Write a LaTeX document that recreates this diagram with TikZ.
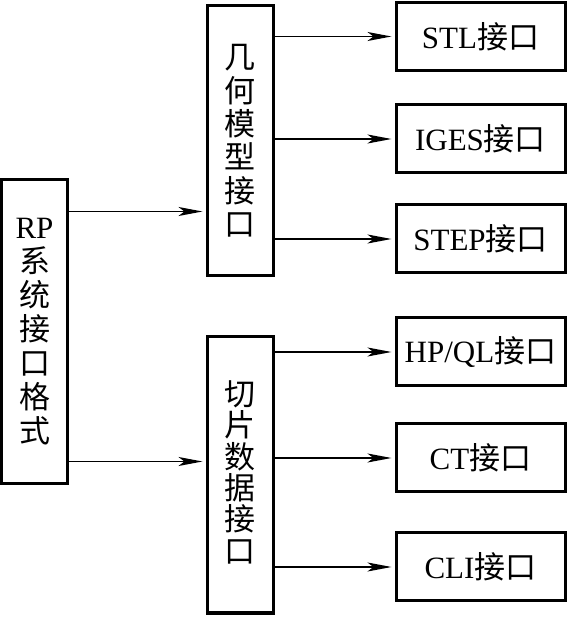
\documentclass[tikz,border=0pt]{standalone}
\usepackage{fontspec}
\setmainfont{Liberation Serif}
\newfontfamily\cjk{Noto Sans CJK SC}
\usetikzlibrary{arrows.meta,positioning,calc}
\newcommand{\zh}[1]{{\cjk #1}}
\tikzset{
  box/.style={draw=black,line width=1.5pt,fill=white,inner sep=0pt,
    align=center,font=\fontsize{15.5}{17}\selectfont},
  vbox/.style={box,minimum width=33pt},
  ibox/.style={box,minimum width=84.5pt,minimum height=34pt},
  arr/.style={-{Stealth[length=12pt,width=4.5pt,inset=3pt]},line width=0.75pt,
    shorten >=1.5pt},
}

\begin{document}
\begin{tikzpicture}[x=0.5pt,y=0.5pt]
  \useasboundingbox (0,0) rectangle (568,617);
  % left column
  \node[vbox,minimum height=152pt](rp) at (34.5,285)
    {RP\\\zh{系}\\\zh{统}\\\zh{接}\\\zh{口}\\\zh{格}\\\zh{式}};
  % middle column
  \node[vbox,minimum height=135pt,font=\fontsize{15.5}{16.7}\selectfont](geom) at (240,476)
    {\zh{几}\\\zh{何}\\\zh{模}\\\zh{型}\\\zh{接}\\\zh{口}};
  \node[vbox,minimum height=138pt,font=\fontsize{15.5}{15.7}\selectfont](slice) at (240,142)
    {\rule{0pt}{0pt}\\[-6pt]\zh{切}\\\zh{片}\\\zh{数}\\\zh{据}\\\zh{接}\\\zh{口}};
  % right column
  \node[ibox](stl)  at (480.5,580.5){STL\zh{接口}};
  \node[ibox](iges) at (480.5,478){IGES\zh{接口}};
  \node[ibox](step) at (480.5,378){STEP\zh{接口}};
  \node[ibox](hpql) at (480.5,265){HP/QL\zh{接口}};
  \node[ibox](ct)   at (480.5,159){CT\zh{接口}};
  \node[ibox](cli)  at (480.5,50){CLI\zh{接口}};

  \draw[arr]([yshift=-16.5pt]rp.north east)coordinate(ra)--(ra-|geom.west);
  \draw[arr]([yshift=12pt]rp.south east)coordinate(rb)--(rb-|slice.west);
  \foreach \t in {stl,iges,step}
    \draw[arr](\t.west-|geom.east)--(\t.west);
  \foreach \t in {hpql,ct,cli}
    \draw[arr](\t.west-|slice.east)--(\t.west);
\end{tikzpicture}
\end{document}
